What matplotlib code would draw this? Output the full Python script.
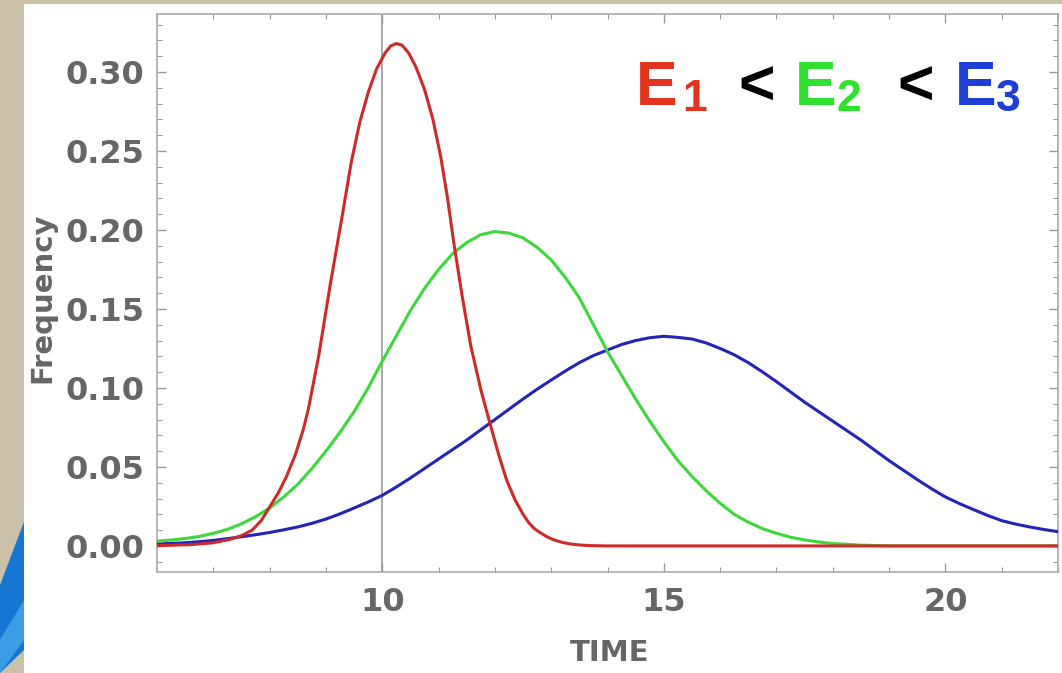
import matplotlib.pyplot as plt
from matplotlib.patches import Rectangle, Polygon
from matplotlib.ticker import MultipleLocator, FormatStrFormatter

W, H = 1062, 673

# arrival-time distributions for the three energies
red_time = [6.0, 6.6, 7.0, 7.28, 7.5, 7.69, 7.85, 7.99, 8.16, 8.3, 8.46, 8.6, 8.69,
            8.87, 9.07, 9.28, 9.45, 9.6, 9.75, 9.9, 10.05, 10.15, 10.25, 10.35,
            10.47, 10.6, 10.75, 10.9, 11.04, 11.16, 11.27, 11.42, 11.57, 11.75,
            11.92, 12.07, 12.21, 12.36, 12.51, 12.6, 12.7, 12.8, 12.92, 13.05, 13.2,
            13.35, 13.5, 13.7, 14.0, 22.0]
red_freq = [0.0002, 0.0008, 0.002, 0.004, 0.0065, 0.010, 0.016, 0.024, 0.034, 0.044,
            0.058, 0.074, 0.087, 0.120, 0.164, 0.207, 0.243, 0.268, 0.287, 0.302,
            0.312, 0.3165, 0.318, 0.317, 0.312, 0.303, 0.289, 0.270, 0.246, 0.220,
            0.192, 0.158, 0.127, 0.099, 0.0766, 0.0575, 0.0415, 0.029, 0.0195, 0.0148,
            0.011, 0.0085, 0.0059, 0.0038, 0.0022, 0.0012, 0.0006, 0.0002, 0.0, 0.0]

green_time = [6.0, 6.25, 6.5, 6.75, 7.0, 7.25, 7.5, 7.75, 8.0, 8.25, 8.5, 8.75, 9.0,
              9.25, 9.5, 9.75, 10.0, 10.25, 10.5, 10.75, 11.0, 11.25, 11.5, 11.75,
              12.0, 12.25, 12.5, 12.75, 13.0, 13.25, 13.5, 13.75, 14.0, 14.25, 14.5,
              14.75, 15.0, 15.25, 15.5, 15.75, 16.0, 16.25, 16.5, 16.75, 17.0, 17.25,
              17.5, 17.75, 18.0, 18.5, 19.0, 22.0]
green_freq = [0.003, 0.0037, 0.0047, 0.006, 0.008, 0.0105, 0.014, 0.0185, 0.024,
              0.031, 0.039, 0.049, 0.060, 0.072, 0.085, 0.100, 0.117, 0.133, 0.149,
              0.163, 0.175, 0.185, 0.192, 0.197, 0.199, 0.198, 0.195, 0.189, 0.181,
              0.170, 0.157, 0.140, 0.123, 0.108, 0.093, 0.079, 0.066, 0.054, 0.044,
              0.035, 0.027, 0.020, 0.015, 0.011, 0.008, 0.0055, 0.0038, 0.0025,
              0.0015, 0.0005, 0.0, 0.0]

blue_time = [6.0, 6.25, 6.5, 6.75, 7.0, 7.25, 7.5, 7.75, 8.0, 8.25, 8.5, 8.75, 9.0,
             9.25, 9.5, 9.75, 10.0, 10.25, 10.5, 10.75, 11.0, 11.25, 11.5, 11.75,
             12.0, 12.25, 12.5, 12.75, 13.0, 13.25, 13.5, 13.75, 14.0, 14.25, 14.5,
             14.75, 15.0, 15.25, 15.5, 15.75, 16.0, 16.25, 16.5, 16.75, 17.0, 17.25,
             17.5, 17.75, 18.0, 18.25, 18.5, 18.75, 19.0, 19.25, 19.5, 19.75, 20.0,
             20.25, 20.5, 20.75, 21.0, 21.25, 21.5, 21.75, 22.0]
blue_freq = [0.0012, 0.0016, 0.002, 0.0027, 0.0035, 0.0046, 0.0058, 0.0071, 0.0085,
             0.0102, 0.012, 0.0143, 0.017, 0.0203, 0.024, 0.0278, 0.032, 0.0373,
             0.043, 0.049, 0.055, 0.061, 0.067, 0.0735, 0.080, 0.0865, 0.093, 0.0992,
             0.105, 0.1107, 0.116, 0.1205, 0.124, 0.1275, 0.130, 0.1318, 0.1327,
             0.132, 0.131, 0.1285, 0.125, 0.121, 0.116, 0.1102, 0.104, 0.0975, 0.091,
             0.085, 0.079, 0.073, 0.067, 0.0605, 0.054, 0.048, 0.042, 0.0363, 0.031,
             0.0268, 0.023, 0.0193, 0.016, 0.0138, 0.012, 0.0104, 0.009]

x_ticks = [10, 15, 20]
y_ticks = [0.00, 0.05, 0.10, 0.15, 0.20, 0.25, 0.30]

plt.rcParams['font.family'] = ['Liberation Sans', 'DejaVu Sans']

fig = plt.figure(figsize=(W / 100, H / 100), dpi=100)
fig.patch.set_facecolor('#cbc1a9')


def fx(x):
    return x / W


def fy(y):
    return 1 - y / H


# slide background: white panel, stone strip, blue corner
fig.add_artist(Rectangle((fx(24), 0), 1 - fx(24), fy(4), transform=fig.transFigure,
                         facecolor='white', edgecolor='none', zorder=0))
fig.add_artist(Polygon([(fx(0), fy(585)), (fx(24), fy(522)), (fx(24), fy(650)),
                        (fx(0), fy(673))], closed=True, transform=fig.transFigure,
                       facecolor='#1677d2', edgecolor='none', zorder=0))
fig.add_artist(Polygon([(fx(0), fy(640)), (fx(24), fy(600)), (fx(24), fy(640)),
                        (fx(0), fy(673))], closed=True, transform=fig.transFigure,
                       facecolor='#3a9de6', edgecolor='none', zorder=0))

ax = fig.add_axes([fx(157), fy(572), (1058 - 157) / W, (572 - 14) / H])
ax.set_facecolor('white')
ax.set_xlim(6, 22)
ax.set_ylim(-0.0165, 0.3367)

ax.axvline(10, color='#9a9a9a', lw=1.2, zorder=1)
ax.plot(blue_time, blue_freq, color='#2424b8', lw=2.2, zorder=3)
ax.plot(green_time, green_freq, color='#3cd83c', lw=2.2, zorder=3)
ax.plot(red_time, red_freq, color='#cf2a2a', lw=2.2, zorder=4)

for side in ax.spines.values():
    side.set_color('#aaaaaa')
    side.set_linewidth(1.2)

ax.xaxis.set_major_locator(plt.FixedLocator(x_ticks))
ax.xaxis.set_minor_locator(MultipleLocator(1))
ax.yaxis.set_major_locator(plt.FixedLocator(y_ticks))
ax.yaxis.set_minor_locator(MultipleLocator(0.01))
ax.yaxis.set_major_formatter(FormatStrFormatter('%.2f'))
ax.tick_params(which='both', direction='in', top=True, right=True, color='#9a9a9a')
ax.tick_params(which='major', length=6.5, width=1.0, labelsize=23,
               labelcolor='#666666')
ax.tick_params(which='minor', length=3.5, width=0.8)
ax.tick_params(axis='x', which='major', pad=11)
ax.tick_params(axis='y', which='major', pad=9)
for lbl in ax.get_xticklabels() + ax.get_yticklabels():
    lbl.set_fontweight('bold')
    lbl.set_family('DejaVu Sans')

ax.set_xlabel('TIME', fontsize=21, fontweight='bold', color='#666666',
              family='DejaVu Sans')
ax.xaxis.set_label_coords(0.502, -0.12)
ax.set_ylabel('Frequency', fontsize=21, fontweight='bold', color='#666666',
              family='DejaVu Sans')
ax.yaxis.set_label_coords(-0.112, 0.491)

# energy ordering annotation
big = dict(fontsize=45, fontweight='bold', va='baseline', ha='left')
small = dict(fontsize=32, fontweight='bold', va='baseline', ha='left')
fig.text(fx(636), fy(105), 'E', color='#e2341e', **big)
fig.text(fx(682), fy(111), '1', color='#e2341e', **small)
fig.text(fx(738), fy(105), '<', color='black', **big)
fig.text(fx(795), fy(105), 'E', color='#2fe22f', **big)
fig.text(fx(836), fy(111), '2', color='#2fe22f', **small)
fig.text(fx(897), fy(105), '<', color='black', **big)
fig.text(fx(955), fy(105), 'E', color='#1e3fd6', **big)
fig.text(fx(996), fy(111), '3', color='#1e3fd6', **small)

fig.savefig('out.png', dpi=100)
